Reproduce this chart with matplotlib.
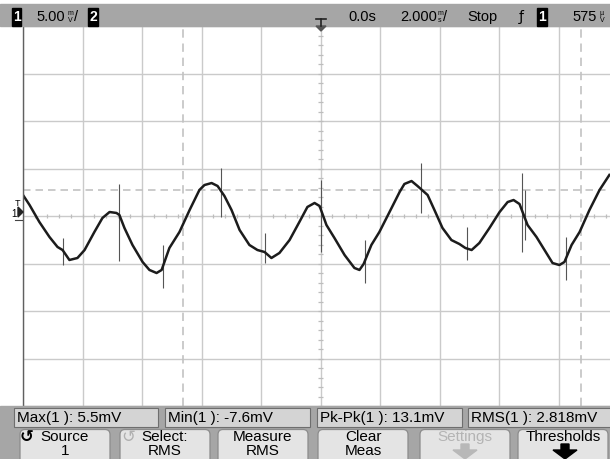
import matplotlib.pyplot as plt
import matplotlib.patches as mpatches
import numpy as np

# trace (time in ms, voltage in mV)
t_ms = [-10.0, -9.78, -9.45, -9.11, -8.84, -8.67, -8.44, -8.17, -7.93, -7.60,
        -7.33, -7.09, -6.86, -6.76, -6.59, -6.32, -5.98, -5.75, -5.51, -5.34,
        -5.08, -4.74, -4.40, -4.07, -3.90, -3.66, -3.46, -3.23, -2.99, -2.72,
        -2.39, -2.12, -1.88, -1.65, -1.38, -1.04, -0.71, -0.44, -0.20, -0.03,
        0.20, 0.47, 0.81, 1.14, 1.31, 1.45, 1.71, 1.98, 2.32, 2.66,
        2.82, 3.06, 3.26, 3.60, 3.83, 4.10, 4.40, 4.67, 4.87, 5.08,
        5.34, 5.68, 6.02, 6.29, 6.49, 6.69, 6.96, 7.26, 7.53, 7.80,
        8.03, 8.20, 8.44, 8.71, 9.04, 9.38, 9.71]
v_mv = [2.21, 1.16, -0.63, -2.21, -3.26, -3.58, -4.63, -4.42, -3.58, -1.68,
        -0.21, 0.42, 0.32, 0.11, -1.26, -3.05, -4.84, -5.68, -6.00, -5.68,
        -3.37, -1.68, 0.63, 2.74, 3.26, 3.47, 3.16, 2.11, 0.63, -1.47,
        -3.05, -3.58, -3.79, -4.42, -3.89, -2.53, -0.63, 0.95, 1.37, 1.05,
        -0.95, -2.32, -4.11, -5.47, -5.68, -5.05, -3.05, -1.68, 0.42, 2.53,
        3.37, 3.68, 3.16, 2.21, 0.63, -1.26, -2.53, -2.95, -3.37, -3.58,
        -2.84, -1.26, 0.42, 1.47, 1.68, 1.26, -0.95, -2.21, -3.58, -4.95,
        -5.16, -4.84, -3.05, -1.68, 0.63, 2.74, 4.32]

# glitches on the trace: time, top, bottom
spike_t = [-8.64, -6.76, -5.28, -3.36, -1.85, 0.0, 1.48, 3.39, 4.91, 6.76, 6.86, 8.24]
spike_hi = [-2.32, 3.37, -3.05, 5.05, -1.79, 3.79, -2.53, 5.58, -1.16, 4.53, 2.74, -2.21]
spike_lo = [-5.16, -4.74, -7.58, -0.11, -4.95, -3.79, -7.05, 0.32, -4.63, -3.79, -2.53, -6.74]

cursor_t = [-4.61, 8.77]
cursor_v = [2.74]

meas_labels = ["Max(1 ): 5.5mV", "Min(1 ): -7.6mV", "Pk-Pk(1 ): 13.1mV", "RMS(1 ): 2.818mV"]
key_top = ["Source", "Select:", "Measure", "Clear", "Settings", "Thresholds"]
key_bottom = ["1", "RMS", "RMS", "Meas", "", ""]

narrow = ['Liberation Sans Narrow', 'Liberation Sans', 'DejaVu Sans']
bar_gray = '#a6a6a6'

W, H = 610, 459
fig = plt.figure(figsize=(W / 100, H / 100), dpi=100)
fig.patch.set_facecolor('white')

# graticule: 10 x 2 ms, 8 x 5 mV
ax = fig.add_axes([23 / W, (H - 406) / H, 595 / W, 380 / H])
ax.set_xlim(-10, 10)
ax.set_ylim(-20, 20)
ax.set_xticks(np.arange(-10, 11, 2))
ax.set_yticks(np.arange(-20, 21, 5))
ax.grid(color='#cacaca', lw=1.0)
ax.tick_params(length=0, labelbottom=False, labelleft=False)
for s in ['top', 'right', 'bottom']:
    ax.spines[s].set_visible(False)
ax.spines['left'].set_color('#606060')
ax.spines['left'].set_linewidth(1.0)
ax.set_axisbelow(True)

# minor ticks on the centre lines
ax.vlines(np.arange(-10, 10.01, 0.4), -0.22, 0.22, color='#bdbdbd', lw=0.9)
ax.hlines(np.arange(-20, 20.01, 1.0), -0.07, 0.07, color='#bdbdbd', lw=0.9)

for t in cursor_t:
    ax.axvline(t, color='#c2c2c2', lw=1.2, ls=(0, (5, 3.5)))
for v in cursor_v:
    ax.axhline(v, color='#c2c2c2', lw=1.2, ls=(0, (4.5, 3)))

ax.vlines(spike_t, spike_lo, spike_hi, color='#555555', lw=0.8)
ax.plot(t_ms, v_mv, color='#1c1c1c', lw=1.8, solid_joinstyle='round')

# screen furniture in pixel coordinates
ov = fig.add_axes([0, 0, 1, 1])
ov.set_xlim(0, W)
ov.set_ylim(H, 0)
ov.axis('off')
ov.patch.set_alpha(0)

ov.add_patch(mpatches.Rectangle((0, 4), W, 21.5, color=bar_gray))
ov.add_patch(mpatches.Rectangle((12, 8), 9, 18, color='black'))
ov.text(16.5, 17, "1", color='white', fontsize=10, fontweight='bold', ha='center', va='center', family=narrow)
ov.text(36, 17, "5.00", fontsize=10.5, ha='left', va='center', family=['Liberation Sans'])
ov.text(70, 13.5, "m", fontsize=5, ha='center', va='center', family=['Liberation Sans'])
ov.text(70, 20, "V", fontsize=5, ha='center', va='center', family=['Liberation Sans'])
ov.text(74, 17, "/", fontsize=10.5, ha='left', va='center', family=['Liberation Sans'])
ov.add_patch(mpatches.Rectangle((88, 8), 10, 18, color='black'))
ov.text(93, 17, "2", color='white', fontsize=10, fontweight='bold', ha='center', va='center', family=narrow)

# trigger position marker
ov.plot([316, 326], [19, 19], color='#222222', lw=1.2)
ov.plot([321, 321], [19, 26], color='#222222', lw=1.2)
ov.add_patch(mpatches.Polygon([[316, 26], [326, 26], [321, 31]], color='#555555'))

ov.text(348, 17, "0.0s", fontsize=10.5, ha='left', va='center', family=['Liberation Sans'])
ov.text(400, 17, "2.000", fontsize=10.5, ha='left', va='center', family=['Liberation Sans'])
ov.text(440, 13.5, "m", fontsize=5, ha='center', va='center', family=['Liberation Sans'])
ov.text(440, 20, "s", fontsize=5, ha='center', va='center', family=['Liberation Sans'])
ov.text(443, 17, "/", fontsize=10.5, ha='left', va='center', family=['Liberation Sans'])
ov.text(467, 17, "Stop", fontsize=10.5, ha='left', va='center', family=['Liberation Sans'])
ov.text(521, 17, "ƒ", fontsize=10, ha='center', va='center', family=['DejaVu Sans'])
ov.add_patch(mpatches.Rectangle((537, 8), 10, 18, color='black'))
ov.text(542, 17, "1", color='white', fontsize=10, fontweight='bold', ha='center', va='center', family=narrow)
ov.text(572, 17, "575", fontsize=10.5, ha='left', va='center', family=['Liberation Sans'])
ov.text(602, 13.5, "µ", fontsize=5, ha='center', va='center', family=['Liberation Sans'])
ov.text(602, 20, "V", fontsize=5, ha='center', va='center', family=['Liberation Sans'])

# ground / trigger level markers on the left
ov.text(17.5, 204, "T", fontsize=6.5, ha='center', va='center', family=['Liberation Sans'])
ov.text(14, 214, "1", fontsize=7, ha='center', va='center', family=['Liberation Sans'])
ov.add_patch(mpatches.Polygon([[18, 207], [23, 212], [18, 217]], color='#222222'))
ov.plot([15, 22], [220, 220], color='#444444', lw=0.8)

# measurement line and softkeys
ov.add_patch(mpatches.Rectangle((0, 406), W, 53, color=bar_gray))
meas_x = [14, 165, 317, 468]
meas_w = [144, 145, 145, 150]
for x0, w, lab in zip(meas_x, meas_w, meas_labels):
    ov.add_patch(mpatches.Rectangle((x0, 408), w, 19, facecolor='#d4d4d4', edgecolor='#6e6e6e', lw=0.8))
    ov.text(x0 + 3, 418, lab, fontsize=11, ha='left', va='center', family=narrow)

key_x = [20, 120, 218, 318, 420, 518]
for x0, top, bot in zip(key_x, key_top, key_bottom):
    ov.add_patch(mpatches.FancyBboxPatch((x0, 429.5), 90, 34, boxstyle='round,pad=0,rounding_size=5',
                                         facecolor='#e4e4e4', edgecolor='#8c8c8c', lw=0.9))
    col = '#b4b4b4' if top == "Settings" else 'black'
    ov.text(x0 + 45, 437, top, fontsize=11, color=col, ha='center', va='center', family=narrow)
    if bot:
        ov.text(x0 + 45, 451, bot, fontsize=11, ha='center', va='center', family=narrow)

ov.text(27, 437, "↺", fontsize=12, ha='center', va='center', family=['DejaVu Sans'], fontweight='bold')
ov.text(128, 437, "↺", fontsize=12, ha='center', va='center', color='#b0b0b0', family=['DejaVu Sans'])

for cx, col in [(465, '#b8b8b8'), (565, 'black')]:
    ov.add_patch(mpatches.Polygon([[cx - 4, 444], [cx + 4, 444], [cx + 4, 450], [cx + 12, 450],
                                   [cx, 459], [cx - 12, 450], [cx - 4, 450]], color=col))

fig.savefig('out.png', dpi=100, facecolor=fig.get_facecolor())
